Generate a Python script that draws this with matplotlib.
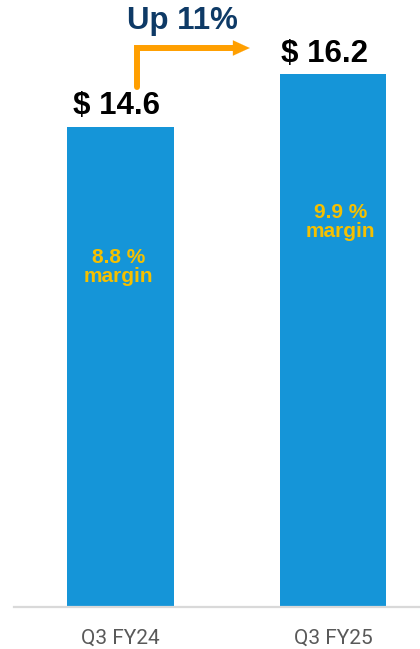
import matplotlib.pyplot as plt

quarters = ["Q3 FY24", "Q3 FY25"]
values = [14.6, 16.2]
margins = ["8.8 %", "9.9 %"]
change_label = "Up 11%"

bar_color = "#1595d8"
gold = "#f5c000"
navy = "#0e3a66"
orange = "#ff9f00"

fig = plt.figure(figsize=(4.2, 6.49), dpi=100)
ax = fig.add_axes([14 / 420, 42 / 649, 406 / 420, 607 / 649])

x = list(range(len(values)))
ax.bar(x, values, width=0.504, color=bar_color, zorder=2)
ax.set_xlim(-0.503, 1.41)
ax.set_ylim(0, 18.46)

label_dx = [-3, -6]
margin_dx = [-0.01, 0.035]
margin_dy = [4.25, 4.5]
for xi, v, m, dx, mdx, mdy in zip(x, values, margins, label_dx, margin_dx, margin_dy):
    ax.annotate("$ " + str(v), (xi, v), xytext=(dx, 4), textcoords="offset points",
                ha="center", va="bottom", fontsize=22.5, fontweight="bold",
                family="Liberation Sans", color="black")
    ax.text(xi + mdx, v - mdy, m + "\nmargin", ha="center", va="center",
            fontsize=15, fontweight="bold", family="Liberation Sans",
            color=gold, linespacing=1.0)

# growth arrow
ax.plot([0.077, 0.077, 0.54], [15.81, 17.0, 17.0], color=orange, lw=4.3,
        solid_capstyle="round", solid_joinstyle="miter", zorder=3)
ax.annotate("", xy=(0.608, 17.0), xytext=(0.53, 17.0),
            arrowprops=dict(arrowstyle="-|>,head_length=1.2,head_width=0.55",
                            color=orange, lw=0.1, shrinkA=0, shrinkB=0))
ax.text(0.289, 17.82, change_label, ha="center", va="center", fontsize=22.5,
        fontweight="bold", family="Liberation Sans", color=navy)

for s in ["top", "right", "left"]:
    ax.spines[s].set_visible(False)
ax.spines["bottom"].set_color("#d9d9d9")
ax.spines["bottom"].set_linewidth(1.6)
ax.set_yticks([])
ax.set_xticks(x)
ax.set_xticklabels(quarters, fontsize=15, family="Roboto", color="#595959")
ax.tick_params(axis="x", length=0, pad=16)

fig.savefig("out.png", dpi=100)
